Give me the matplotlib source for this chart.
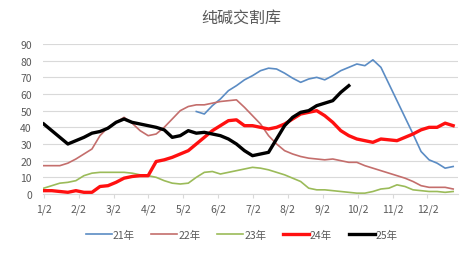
import matplotlib.pyplot as plt
import numpy as np

plt.rcParams['font.family'] = ['Noto Sans CJK SC', 'DejaVu Sans']

month_labels = ['1/2', '2/2', '3/2', '4/2', '5/2', '6/2', '7/2', '8/2', '9/2', '10/2', '11/2', '12/2']

# weekly values, week 0 = 1/2
y21 = [None] * 19 + [49.5, 48, 53, 57, 62, 65, 68.5, 71, 74, 75.5, 75, 72.5, 69.5, 67, 69, 70,
                     68.5, 71, 74, 76, 78, 77, 80.5, 76, 66, 56, 46, 36, 25.5, 20.5, 18.5, 15.5, 16.5]
y22 = [17, 17, 17, 18.5, 21, 24, 27, 35, 40, 43, 46, 42.5, 38, 35, 36, 40, 45, 50, 52.5, 53.5,
       53.5, 54.5, 55.5, 56, 56.5, 52, 47, 42, 35, 30, 26, 24, 22.5, 21.5, 21, 20.5, 21, 20, 19,
       19, 17, 15.5, 14, 12.5, 11, 9.5, 7.5, 5, 4, 4, 4, 3]
y23 = [3.5, 5, 6.5, 7, 8, 11, 12.5, 13, 13, 13, 13, 12.5, 11.5, 11, 10, 8, 6.5, 6, 6.5, 10, 13,
       13.5, 12, 13, 14, 15, 16, 15.5, 14.5, 13, 11.5, 9.5, 7.5, 3.5, 2.5, 2.5, 2, 1.5, 1, 0.5,
       0.5, 1.5, 3, 3.5, 5.5, 4.5, 2.5, 2, 1.5, 1.5, 1, 1.5]
y24 = [2, 2, 1.5, 1, 2, 1, 1, 4.5, 5, 7, 9.5, 10.5, 11, 11, 19.5, 20.5, 22, 24, 26, 30, 34, 38,
       41, 44, 44.5, 41, 41, 40, 39, 40, 42, 45, 48, 49, 50, 47, 43, 38, 35, 33, 32, 31, 33,
       32.5, 32, 34, 36, 38.5, 40, 40, 42.5, 41]
y25 = [42, 38, 34, 30, 32, 34, 36.5, 37.5, 39.5, 43, 45, 43, 42, 41, 40, 38.5, 34, 35, 38, 36.5,
       37, 36, 35, 33, 30, 26, 23, 24, 25, 33, 41, 46, 49, 50, 53, 54.5, 56, 61, 65]

series = [('21年', y21, '#5b8cc4', 1.2),
          ('22年', y22, '#c46e6c', 1.2),
          ('23年', y23, '#9bbb59', 1.2),
          ('24年', y24, '#ff1010', 2.4),
          ('25年', y25, '#000000', 2.4)]

fig = plt.figure(figsize=(4.74, 2.55), dpi=100)
ax = fig.add_axes([0.0907, 0.2353, 0.8755, 0.5882])

for name, vals, color, lw in series:
    v = np.array([np.nan if x is None else x for x in vals], dtype=float)
    ax.plot(np.arange(len(v)), v, color=color, lw=lw, label=name, solid_joinstyle='round')

ax.set_ylim(0, 90)
ax.set_xlim(-0.1, 51.6)
ax.set_yticks(np.arange(0, 91, 10))
ax.set_xticks(np.arange(12) * 4.345)
ax.set_xticklabels(month_labels)
ax.grid(axis='y', color='#d9d9d9', lw=0.8)
ax.set_axisbelow(True)
for s in ['top', 'right', 'left']:
    ax.spines[s].set_visible(False)
ax.spines['bottom'].set_color('#d9d9d9')
ax.tick_params(axis='y', length=0, labelsize=7.5, labelcolor='#595959', pad=8)
ax.tick_params(axis='x', length=3, color='#d9d9d9', labelsize=7.5, labelcolor='#595959', pad=4)

fig.text(0.51, 0.93, '纯碱交割库', ha='center', va='center', fontsize=11.5, color='#595959')
fig.legend(loc='center', bbox_to_anchor=(0.51, 0.075), ncol=5, frameon=False, fontsize=7.5,
           handlelength=2.5, handletextpad=0.1, columnspacing=1.6, labelcolor='#595959')

fig.savefig('out.png', dpi=100)
